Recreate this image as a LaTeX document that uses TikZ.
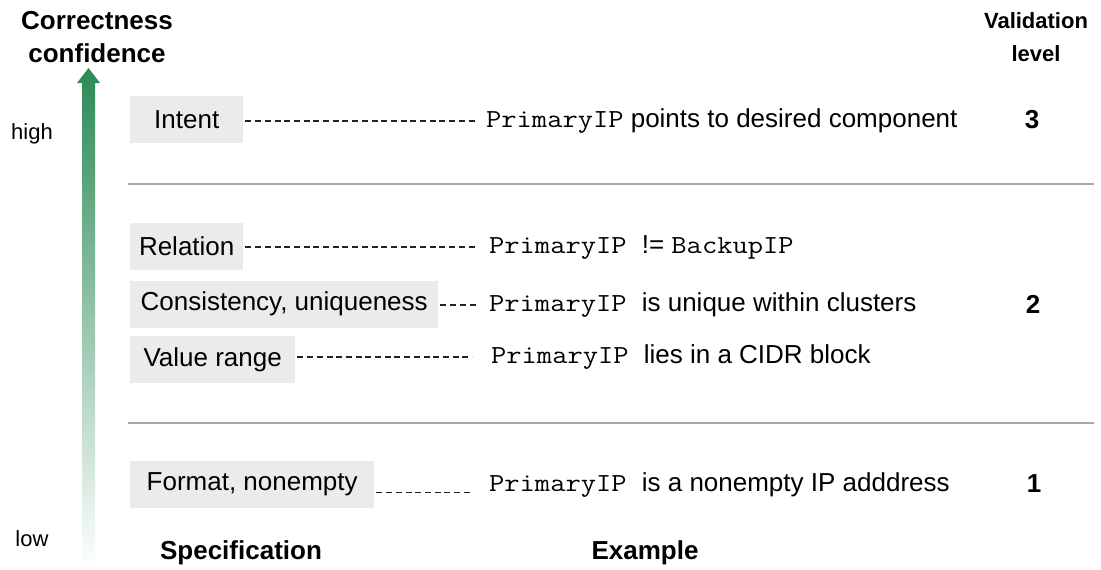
\documentclass[tikz,border=0pt]{standalone}
\usepackage{fontspec}
\setmainfont{Liberation Sans}
\newfontfamily\codefont[FakeStretch=1.14]{Latin Modern Mono}
\definecolor{boxgray}{HTML}{EBEBEB}
\definecolor{rulegray}{HTML}{A8A8A8}
\definecolor{arrowgreen}{HTML}{2A8A55}
\definecolor{dashgray}{HTML}{222222}
\newcommand{\code}[1]{{\codefont #1}}
\begin{document}
\begin{tikzpicture}[x=1pt,y=-1pt,
  big/.style={font=\fontsize{26}{33}\selectfont},
  small/.style={font=\fontsize{22}{33}\selectfont},
  head/.style={font=\fontsize{26}{33}\selectfont\bfseries, align=center, inner sep=0},
  spec/.style={big, fill=boxgray, minimum height=47, inner sep=0, anchor=north west},
  ex/.style={big, anchor=west, inner sep=0, text height=19, text depth=6},
  level/.style={big, font=\fontsize{26}{33}\selectfont\bfseries, inner sep=0},
  link/.style={draw=dashgray, line width=1.3pt, dash pattern=on 6pt off 3.7pt},
  sep/.style={draw=rulegray, line width=1.5pt}]
\useasboundingbox (0,0) rectangle (1101,570);

% confidence axis
\node[head] (conf) at (97,37) {Correctness\\confidence};
\shade[top color=arrowgreen, bottom color=white]
  (82,568) -- (82,83) -- (77,83) -- (88.5,68) -- (100,83) -- (95,83) -- (95,568) -- cycle;
\node[small, inner sep=0] (high) at (32,134) {high};
\node[small, inner sep=0] (low) at (32,539) {low};

% validation level column
\node[head, font=\fontsize{22}{33}\selectfont\bfseries] (vl) at (1036,37) {Validation\\level};
\node[level] (l3) at (1032,120) {3};
\node[level] (l2) at (1033,304) {2};
\node[level] (l1) at (1034,484) {1};

% separators
\draw[sep] (128,184) -- (1094,184);
\draw[sep] (128,423) -- (1094,423);

% specifications
\node[spec, minimum width=113] (intent) at (130,95.5) {Intent};
\node[spec, minimum width=113] (rel) at (130,222.5) {Relation};
\node[spec, minimum width=308] (cons) at (130,280.5) {Consistency, uniqueness};
\node[spec, minimum width=165] (vr) at (130,336) {Value range};
\node[spec, minimum width=244] (fmt) at (130,461) {Format, nonempty};

% examples
\node[ex] (exI) at (486,121) {\code{PrimaryIP} points to desired component};
\node[ex] (exR) at (489,247) {\code{PrimaryIP\ }!= \code{BackupIP}};
\node[ex] (exC) at (489,305) {\code{PrimaryIP\ }is unique within clusters};
\node[ex] (exV) at (491,357) {\code{PrimaryIP\ }lies in a CIDR block};
\node[ex] (exF) at (489,485) {\code{PrimaryIP\ }is a nonempty IP adddress};

% dashed links
\draw[link, shorten <=2pt, shorten >=8pt] (intent.east |- exI.west) -- (exI.west);
\draw[link, shorten <=2pt, shorten >=11pt] (rel.east |- exR.west) -- (exR.west);
\draw[link, shorten <=2pt, shorten >=11pt] (cons.east |- exC.west) -- (exC.west);
\draw[link, shorten <=2pt, shorten >=19pt] (vr.east |- exV.west) -- (exV.west);
\draw[link, shorten <=2pt, shorten >=17pt] ([yshift=-8pt]fmt.east) -- ([yshift=-8pt]fmt.east -| exF.west);

% column titles
\node[head] (spect) at (241,553) {Specification};
\node[head] (exat) at (645,553) {Example};
\end{tikzpicture}
\end{document}
